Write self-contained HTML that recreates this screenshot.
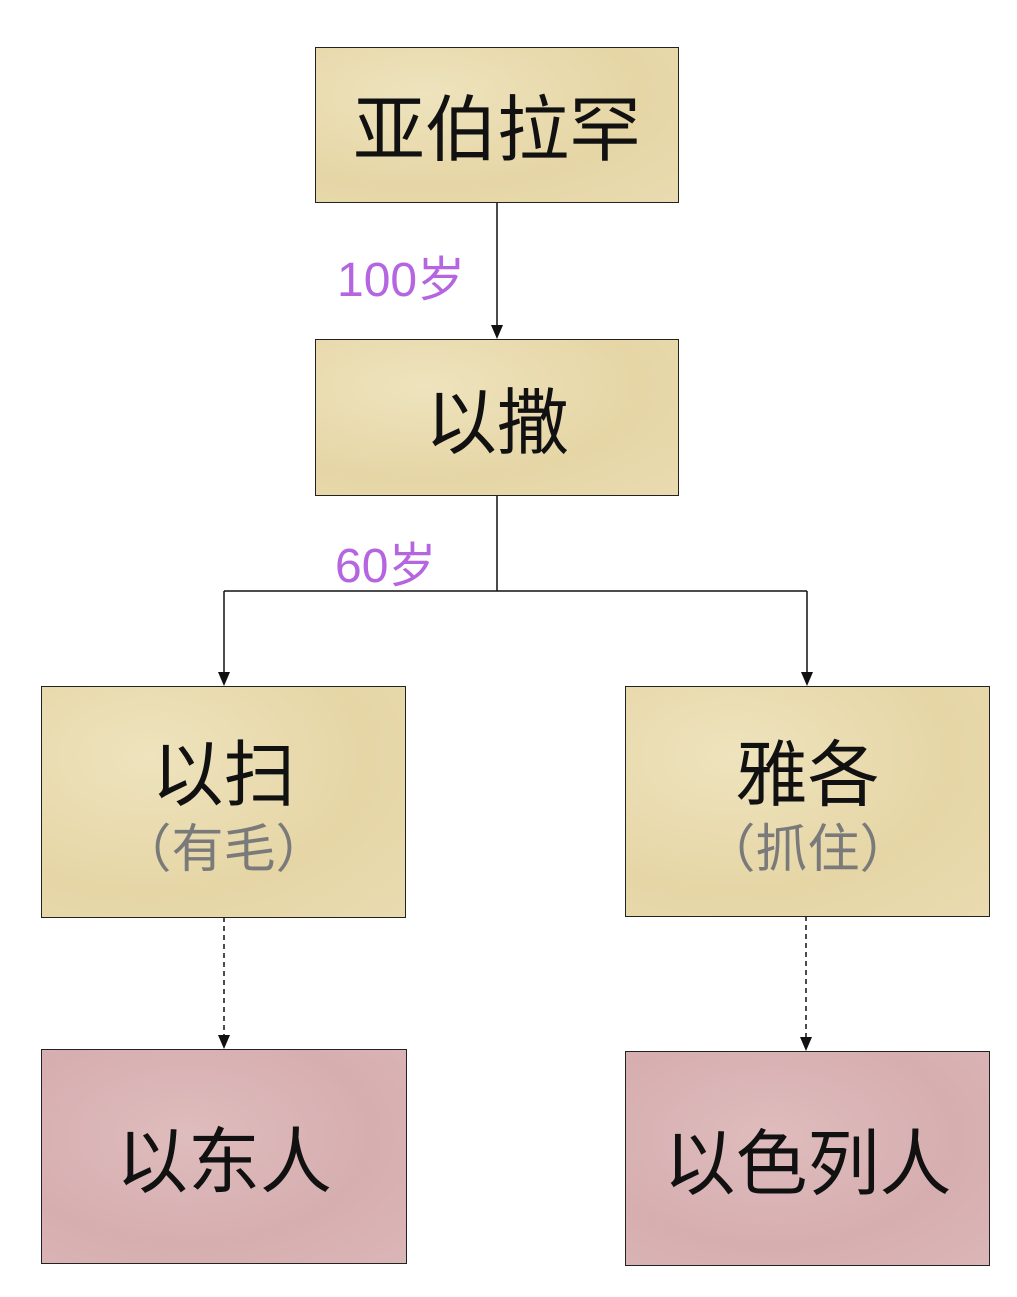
<!DOCTYPE html>
<html><head><meta charset="utf-8"><style>
body{margin:0;width:1017px;height:1297px;background:#fff;position:relative;overflow:hidden;font-family:"Liberation Sans","Noto Sans CJK SC",sans-serif}
.b{position:absolute;border:1.5px solid #222;box-sizing:border-box;display:flex;flex-direction:column;align-items:center;justify-content:center;color:#111}
.y{background:radial-gradient(ellipse at 30% 30%,#eee3bd,#e6d6a6 60%,#e9dbb0)}
.p{background:radial-gradient(ellipse at 40% 40%,#dfbcbd,#d6aeb0 60%,#dbb6b7)}
.t{font-size:72px;line-height:1;position:relative;top:6px}
.g{font-size:52px;color:#7a7a7a;margin-top:12px;line-height:1;position:relative;top:6px}
.l{position:absolute;font-size:48px;color:#b565e0}
</style></head><body>
<svg width="1017" height="1297" style="position:absolute;left:0;top:0">
<g stroke="#111" stroke-width="1.5" fill="none">
<line x1="497" y1="202" x2="497" y2="325"/>
<line x1="497" y1="495" x2="497" y2="591"/>
<line x1="224" y1="591" x2="807" y2="591"/>
<line x1="224" y1="591" x2="224" y2="672"/>
<line x1="807" y1="591" x2="807" y2="672"/>
<line x1="224" y1="917" x2="224" y2="1035" stroke-dasharray="5,4"/>
<line x1="806" y1="916" x2="806" y2="1037" stroke-dasharray="5,4"/>
</g>
<g fill="#111">
<path d="M491,325 L503,325 L497,339 Z"/>
<path d="M218,672 L230,672 L224,686 Z"/>
<path d="M801,672 L813,672 L807,686 Z"/>
<path d="M218,1035 L230,1035 L224,1049 Z"/>
<path d="M800,1037 L812,1037 L806,1051 Z"/>
</g>
</svg>
<div class="b y" style="left:315px;top:47px;width:364px;height:156px"><div class="t">亚伯拉罕</div></div>
<div class="b y" style="left:315px;top:339px;width:364px;height:157px"><div class="t">以撒</div></div>
<div class="b y" style="left:41px;top:686px;width:365px;height:232px"><div class="t">以扫</div><div class="g">（有毛）</div></div>
<div class="b y" style="left:625px;top:686px;width:365px;height:231px"><div class="t">雅各</div><div class="g">（抓住）</div></div>
<div class="b p" style="left:41px;top:1049px;width:366px;height:215px"><div class="t">以东人</div></div>
<div class="b p" style="left:625px;top:1051px;width:365px;height:215px"><div class="t">以色列人</div></div>
<div class="l" style="left:337px;top:240px">100岁</div>
<div class="l" style="left:335px;top:526px">60岁</div>
</body></html>
